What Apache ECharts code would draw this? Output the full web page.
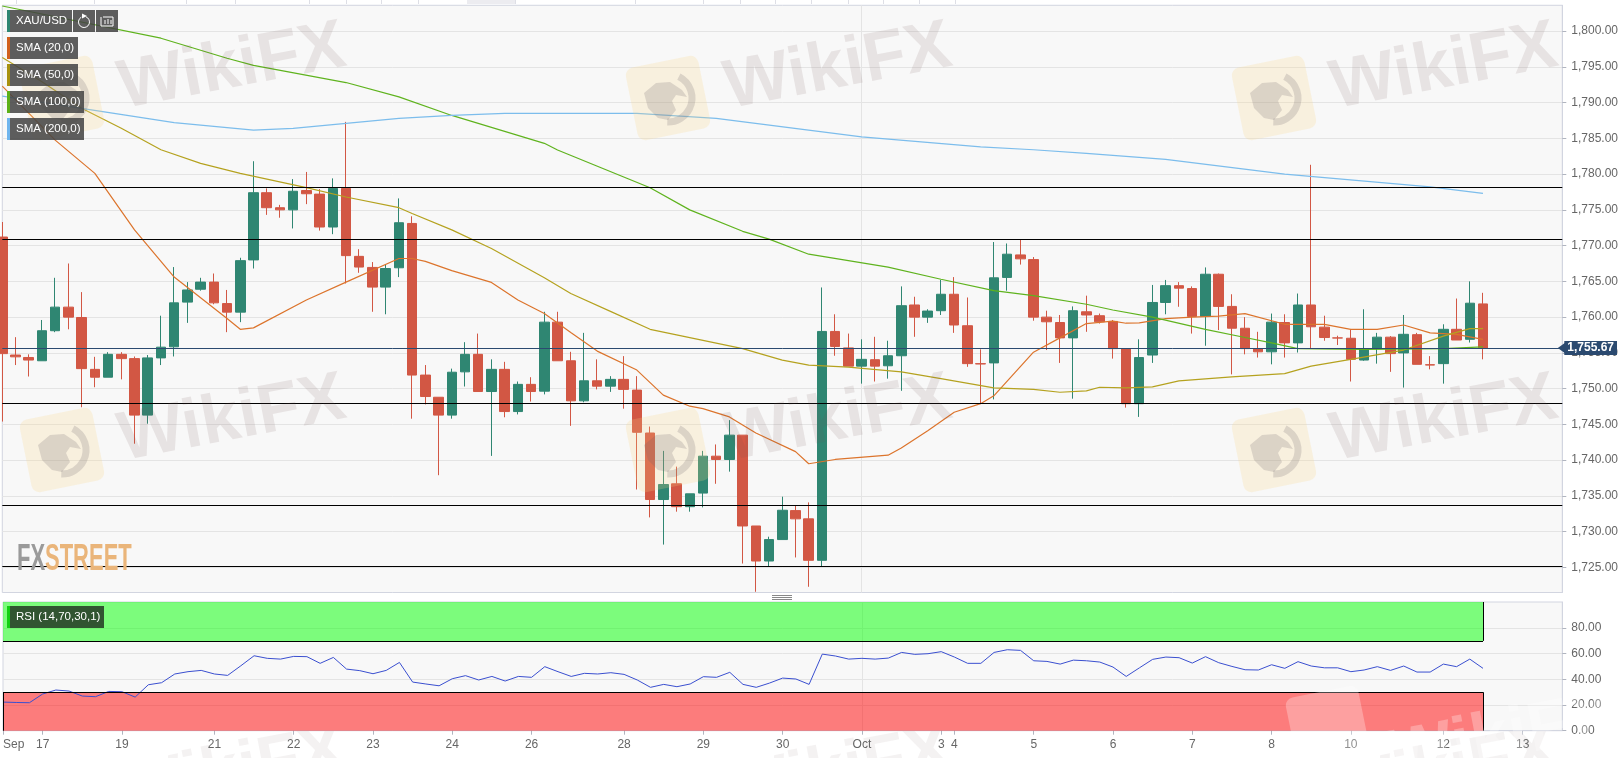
<!DOCTYPE html>
<html><head><meta charset="utf-8">
<script src="https://cdn.jsdelivr.net/npm/echarts@6/dist/echarts.min.js"></script>
<style>html,body{margin:0;padding:0;background:#fff}#c{width:1624px;height:758px}</style>
</head><body><div id="c"></div>
<script>
// ---- axis ticks
const slotCount = 119;
const tickIndex  = [0,3,9,16,22,28,34,40,47,53,59,65,71,72,78,84,90,96,102,109,115];
const tickLabels = ['Sep','17','19','21','22','23','24','26','28','29','30','Oct','3','4','5','6','7','8','10','12','13'];
const priceTicks = [1725,1730,1735,1740,1745,1750,1755,1760,1765,1770,1775,1780,1785,1790,1795,1800];
// ---- candles
const opens  = [1771.2,1754.7,1754.36,1753.9,1758.1,1761.4,1759.95,1752.7,1751.6,1754.8,1754.2,1746.3,1754.3,1755.85,1762.1,1763.9,1764.9,1761.9,1760.7,1768,1777.4,1775.3,1775,1777.7,1777.2,1772.6,1778,1768.5,1766.95,1764.2,1766.9,1773.1,1751.9,1748.8,1746.3,1752.35,1754.8,1749.6,1752.7,1746.8,1750.6,1749.65,1759.3,1753.9,1748.3,1751.1,1750.35,1751.3,1749.8,1743.8,1734.5,1736.7,1733.5,1735.4,1740.56,1740.1,1743.5,1730.8,1725.9,1728.9,1732.95,1731.8,1726,1758,1755.7,1753.15,1754.05,1753.2,1754.6,1761.7,1760,1760.9,1763.2,1758.8,1753.5,1753.6,1765.55,1768.7,1768.05,1760,1759.25,1757.1,1760.75,1760.2,1759.4,1755.6,1747.9,1754.7,1762.05,1764.4,1764,1760.1,1766,1761.5,1758.45,1755.6,1755.15,1759.25,1756.4,1761.7,1758.6,1757.1,1757.05,1754,1755.6,1757.2,1755,1757.55,1753.35,1753.5,1758.3,1756.9,1761.85];
const closes = [1754.9,1754.45,1754,1758.1,1761.4,1760,1752.8,1751.6,1754.8,1754.2,1746.3,1754.3,1755.8,1762,1763.8,1764.9,1762,1760.7,1767.9,1777.4,1775.3,1775,1777.6,1777.25,1772.6,1778,1768.6,1767,1764.2,1766.8,1773.2,1751.9,1748.9,1746.3,1752.3,1754.8,1749.6,1752.7,1746.8,1750.6,1749.6,1759.3,1753.9,1748.3,1751.1,1750.35,1751.3,1749.9,1743.9,1734.5,1736.6,1733.5,1735.3,1740.56,1740.1,1743.5,1730.8,1725.9,1728.9,1733,1731.8,1726,1758,1755.9,1753.15,1754.1,1753.15,1754.6,1761.6,1760,1760.85,1763.2,1758.9,1753.5,1753.45,1765.5,1768.8,1768.15,1760,1759.35,1757.1,1760.9,1760.3,1759.35,1755.6,1747.9,1754.35,1762.05,1764.4,1764.05,1760.1,1766,1761.5,1758.45,1755.6,1755.15,1759.3,1756.4,1761.7,1758.65,1757.15,1757.08,1754.1,1755.6,1757.2,1754.9,1757.6,1753.4,1753.3,1758.3,1756.8,1761.95,1755.67];
const lows   = [1745.4,1753.3,1751.7,1753.9,1757.9,1758.3,1747.4,1750.2,1751.6,1751.3,1742.3,1745.1,1753.3,1754.5,1759.2,1763.7,1761.8,1757.9,1759.3,1766.8,1774.3,1773.9,1772.4,1775.8,1772.1,1771.6,1764.7,1766.2,1760.75,1760.4,1765.6,1745.8,1747.8,1737.9,1745.8,1750.3,1749.6,1740.6,1746,1746.4,1748.2,1749.2,1753.9,1744.8,1748.1,1749.9,1749.55,1747.2,1735.9,1732,1728.2,1732.8,1732.8,1733.4,1736.7,1738.4,1725.55,1721.6,1725.2,1728.9,1726.4,1722.3,1725.2,1754.6,1753.15,1750.7,1751,1751.4,1749.7,1757.25,1759.2,1760.3,1757.8,1753.05,1747.9,1748.5,1763.7,1767.35,1759.5,1755.4,1753.6,1748.6,1757.95,1759.1,1754.2,1747.35,1746.05,1753.6,1760.4,1761.45,1757.7,1756,1758.2,1752,1754.8,1754.35,1753.4,1754.35,1755.05,1755.6,1756.7,1756.1,1751,1753.9,1753.5,1752.35,1750.15,1753.4,1752.7,1750.7,1756.8,1756.45,1754.1];
const highs  = [1773.3,1757.2,1754.8,1759.6,1765.5,1767.5,1763.5,1754.45,1755.1,1755.1,1754.5,1754.7,1760.2,1767,1764.9,1765.5,1766.1,1763.8,1768.3,1781.8,1778,1775.7,1779.3,1780.3,1777.9,1779.4,1787.3,1769.5,1767.7,1767.3,1776.6,1774.1,1753.3,1748.8,1752.8,1756.5,1757.7,1754.1,1753.75,1751,1751.6,1760.75,1760.75,1755.15,1757.8,1754.1,1751.75,1754.55,1751.75,1744.7,1741.3,1739.1,1735.3,1741.3,1742.2,1745.6,1743.5,1730.8,1729.3,1734.9,1733.6,1734.1,1764.15,1760.4,1757.7,1756.9,1757.25,1756.7,1764.3,1762.85,1761.1,1765.2,1765.6,1762.75,1755.5,1770.5,1770.3,1770.8,1768.4,1760.9,1760.3,1761.5,1763,1760.5,1759.6,1755.6,1756.9,1764.5,1765.2,1764.9,1764.3,1766.95,1766.1,1763.2,1760,1757.95,1760.5,1760.4,1763.3,1781.3,1760.2,1757.4,1758.3,1761.1,1757.8,1757.35,1760.3,1757.8,1754.55,1759,1762.6,1765,1763.4];
// ---- moving averages: candle index / value
const sma20Idx = [0,4,7,10,13,17,18,19,23,26,30,31,32,34,37,39,41,43,45,48,50,52,53,55,57,60,61,63,67,68,70,72,74,75,78,80,82,84,85,86,88,90,92,94,97,100,102,104,106,108,110,112];
const sma20Val = [1792.3,1784.75,1780.1,1772.2,1765.6,1759.8,1758.3,1758.5,1762.4,1764.9,1768.2,1768.2,1767.8,1766.5,1764.85,1762.4,1760.5,1757.85,1755.25,1752.6,1749.1,1747.55,1747.2,1746.05,1743.8,1741.2,1739.5,1740.1,1740.7,1741.7,1744.1,1746.7,1747.9,1749,1755.1,1757.1,1759.1,1759.45,1759.15,1759.2,1759.8,1760,1760.15,1760.5,1759,1759,1758.3,1758.3,1758.9,1757.8,1757.6,1756.9];
const sma50Idx = [0,3,6,9,12,15,18,23,26,30,31,34,37,41,43,46,49,56,59,61,64,68,71,75,78,80,82,83,85,87,89,93,97,99,102,106,109,111,112];
const sma50Val = [1796.3,1792.9,1789.2,1786.4,1783.4,1781.5,1780.1,1778.1,1776.8,1775.3,1774.5,1772.2,1769.6,1765.5,1763.3,1760.8,1758.3,1755.6,1754,1753.3,1753,1752.35,1751.4,1750.1,1749.9,1749.5,1749.7,1750.2,1750.1,1750.25,1751.1,1751.65,1752.1,1753.15,1754.1,1755.4,1757.35,1758.4,1758.4];
const sma100Idx = [0,12,17,19,26,30,34,41,42,49,52,56,58,61,67,71,75,78,82,84,87,91,94,96,98,103,109,112];
const sma100Val = [1803.5,1799,1796.2,1795.2,1792.8,1790.8,1788.2,1784.3,1783.36,1778.1,1775,1772,1770.9,1768.8,1767,1765.3,1763.7,1763,1761.8,1761,1760,1758.3,1757.15,1756.4,1755.6,1755.5,1755.6,1755.85];
const sma200Idx = [0,6,13,19,22,26,30,34,38,48,54,65,74,78,82,88,97,108,112];
const sma200Val = [1790.9,1789.2,1787.2,1786.15,1786.4,1787.1,1787.8,1788.2,1788.5,1788.5,1787.8,1785.2,1783.8,1783.4,1782.9,1782.05,1780,1778.2,1777.3];
// ---- RSI, one value per candle
const rsiValues = [22.3,22,21.8,28.6,31.7,30.9,27,26.5,30.6,30.4,26.2,35.8,37.4,44.2,46,47,44.2,43.1,50.6,58.4,56.4,55.8,57.9,57.7,52.5,57.1,48,46.8,44.4,47,53.2,37.9,36.4,35,40.5,42.9,39.5,42.3,38.7,42.3,41.6,49.9,46,42.3,44.7,44.2,45.2,43.9,39.5,33.8,36.1,34.3,36.4,42.1,41.6,45.5,36.1,33.8,37.1,41,40.3,36.1,59.7,58.2,55.8,56.4,55.8,56.6,61,59.5,60,61.6,57.4,52.5,52.5,61,63.1,62.6,54.5,54,51.9,55,54.5,53.5,49.6,42.3,49,55.6,57.4,56.9,52.7,57.7,53,50.1,47.5,47.3,51.4,48.6,53.8,50.4,49,49,46,47.3,49.9,47,50.4,45.7,45.7,51.9,49.9,55.8,48.6];
const rsiTicks = [0,20,40,60,80];
// ---- horizontal levels
const levels = [1778.1,1770.86,1747.9,1733.66,1725.2];
const lastPrice = 1755.67;
const monthLineIndex = 65;
const stripTicks = [16,94,186,235,309,346,381,418,467,515,635,703,740,775,811,848,883,919,955];

const GREEN='#2f8672', RED='#d25744', GRID='#e4e4e4', AXIS='#d2d5e0', TXT='#666666', FONT='"Liberation Sans",Arial,sans-serif';
const categories = Array.from({length:slotCount},(_,i)=>{const k=tickIndex.indexOf(i);return k>=0?tickLabels[k]:'';});
const isTick = i => tickIndex.indexOf(i)>=0;
const pairs = (a,b)=>a.map((x,i)=>[x,b[i]]);
const candles = opens.map((o,i)=>[o,closes[i],lows[i],highs[i]]);
const fmt = v => v.toLocaleString('en-US',{minimumFractionDigits:2,maximumFractionDigits:2});
const lineSeries=(name,color,idx,val,w)=>({name,type:'line',xAxisIndex:0,yAxisIndex:0,z:3,data:pairs(idx,val),showSymbol:false,symbol:'none',lineStyle:{color,width:w||1.2},silent:true,animation:false});
const lastIdx = opens.length-1;

// decorative overlays
function badge(x,y,w,h,label,strip,bg){
  return [
   {type:'rect',z:50,shape:{x,y,width:w,height:h},style:{fill:bg||'rgba(68,68,68,0.86)'}},
   {type:'rect',z:51,shape:{x,y,width:3,height:h},style:{fill:strip}},
   {type:'text',z:52,x:x+9,y:y+h/2,style:{text:label,fill:'#fff',font:'11.5px '+FONT,textVerticalAlign:'middle'}}
  ];
}
const eagle=[[-24,-5],[-12,-15],[2,-16],[14,-8],[19,-1],[8,-3],[4,3],[8,12],[0,22],[-10,20],[-20,10]];
function stamp(cx,cy,lx,ly,z,textFill,logoFill,eagleFill){
  const out=[
   {type:'text',z,x:cx,y:cy,rotation:0.19,style:{text:'WikiFX',font:'bold 69px '+FONT,fill:textFill,textAlign:'center',textVerticalAlign:'middle'}},
   {type:'rect',z,x:lx,y:ly,rotation:0.2,shape:{x:-37,y:-37,width:74,height:74,r:8},style:{fill:logoFill}}];
  if(eagleFill) out.push(
   {type:'arc',z,x:lx,y:ly,shape:{cx:0,cy:0,r:24,startAngle:-1.1,endAngle:1.6},style:{stroke:eagleFill,fill:'none',lineWidth:7}},
   {type:'polygon',z,x:lx,y:ly,shape:{points:eagle},style:{fill:eagleFill}});
  return out;
}
const wmT='rgba(115,85,85,0.12)', wmL='rgba(250,215,130,0.22)', wmE='rgba(105,95,105,0.2)';
const row3=(x)=>({type:'text',z:-1,x,y:772,rotation:0.19,style:{text:'WikiFX',font:'bold 69px '+FONT,fill:'rgba(115,85,85,0.08)',textAlign:'center',textVerticalAlign:'middle'}});
const graphics = [].concat(
  stripTicks.map(x=>({type:'rect',z:1,shape:{x,y:0,width:1,height:4},style:{fill:'#dedfe6'}})),
  [{type:'rect',z:1,shape:{x:467,y:0,width:48,height:4},style:{fill:'#ececf0'}}],
  stamp(232,68,62,98,40,wmT,wmL,wmE), stamp(838,68,668,98,40,wmT,wmL,wmE), stamp(1444,68,1274,98,40,wmT,wmL,wmE),
  stamp(232,420,62,450,40,wmT,wmL,wmE), stamp(838,420,668,450,40,wmT,wmL,wmE), stamp(1444,420,1274,450,40,wmT,wmL,wmE),
  // third row only shows below the lower pane
  [row3(232),row3(838),row3(1444)],
  // pale stamp over the red band
  stamp(1502,738,1328,728,41,'rgba(255,255,255,0.28)','rgba(255,255,255,0.28)',null),
  // FXSTREET mark
  [{type:'text',z:42,x:17,y:560,scaleX:0.61,style:{rich:{a:{fill:'#9a9a9a',font:'bold 36px '+FONT},b:{fill:'#eab57a',font:'bold 36px '+FONT}},text:'{a|FX}{b|STREET}',textVerticalAlign:'middle'}}],
  badge(7,10,65,22,'XAU/USD',GREEN),
  [{type:'rect',z:50,shape:{x:73,y:10,width:22,height:22},style:{fill:'rgba(68,68,68,0.86)'}},
   {type:'arc',z:51,shape:{cx:84,cy:22,r:5.5,startAngle:-1.2,endAngle:4.2},style:{stroke:'#fff',fill:'none',lineWidth:1}},
   {type:'polygon',z:51,shape:{points:[[82,13.5],[87,16],[82,18.5]]},style:{fill:'#fff'}},
   {type:'rect',z:50,shape:{x:96,y:10,width:22,height:22},style:{fill:'rgba(68,68,68,0.86)'}},
   {type:'polyline',z:51,shape:{points:[[101,17],[101,26],[113,26],[113,17],[103,17]]},style:{stroke:'#fff',fill:'none',lineWidth:1}},
   {type:'line',z:51,shape:{x1:105,y1:24,x2:105,y2:20},style:{stroke:'#fff'}},
   {type:'line',z:51,shape:{x1:108,y1:24,x2:108,y2:19},style:{stroke:'#fff'}},
   {type:'line',z:51,shape:{x1:111,y1:24,x2:111,y2:20},style:{stroke:'#fff'}}],
  badge(7,37,71,22,'SMA (20,0)','#d1601c'),
  badge(7,64,71,22,'SMA (50,0)','#a8920f'),
  badge(7,91,77,22,'SMA (100,0)','#5cb017'),
  badge(7,118,77,22,'SMA (200,0)','#6fb5ee'),
  badge(7,606,97,22,'RSI (14,70,30,1)','#12d012','rgba(45,75,45,0.95)'),
  // pane divider handle
  [{type:'rect',z:50,shape:{x:772,y:595,width:20,height:1},style:{fill:'#888'}},
   {type:'rect',z:50,shape:{x:772,y:597,width:20,height:1},style:{fill:'#888'}},
   {type:'rect',z:50,shape:{x:772,y:599,width:20,height:1},style:{fill:'#888'}}]
);

const chart = echarts.init(document.getElementById('c'),null,{renderer:'canvas'});
chart.setOption({
  animation:false,
  backgroundColor:'#ffffff',
  graphic:{elements:graphics},
  grid:[
    {left:2.3,right:1624-1562.3,top:5.3,height:587.2,show:true,backgroundColor:'#f8f8f8',borderColor:AXIS,borderWidth:1},
    {left:2.3,right:1624-1562.3,top:602,height:128.7,show:true,backgroundColor:'#f8f8f8',borderColor:AXIS,borderWidth:1}
  ],
  xAxis:[
    {type:'category',gridIndex:0,data:categories,boundaryGap:false,axisLine:{show:false},axisTick:{show:false},axisLabel:{show:false},
     splitLine:{show:true,interval:i=>i===monthLineIndex,lineStyle:{color:GRID}}},
    {type:'category',gridIndex:1,data:categories,boundaryGap:false,axisLine:{show:true,lineStyle:{color:AXIS}},
     axisTick:{show:true,length:4,interval:i=>isTick(i),lineStyle:{color:'#b0b4bf'}},
     axisLabel:{show:true,interval:i=>isTick(i),color:TXT,fontSize:12,fontFamily:FONT,margin:8,alignMinLabel:'left',hideOverlap:false},
     splitLine:{show:true,interval:i=>i===monthLineIndex,lineStyle:{color:GRID}}}
  ],
  yAxis:[
    {type:'value',gridIndex:0,position:'right',min:1721.5,max:1803.6,scale:true,
     axisLine:{show:true,lineStyle:{color:AXIS}},
     axisTick:{show:true,length:4,customValues:priceTicks,lineStyle:{color:'#b0b4bf'}},
     axisLabel:{show:true,customValues:priceTicks,formatter:v=>fmt(v),color:TXT,fontSize:12,fontFamily:FONT,margin:9},
     splitLine:{show:true,lineStyle:{color:GRID}}},
    {type:'value',gridIndex:1,position:'right',min:0,max:100.3,
     axisLine:{show:true,lineStyle:{color:AXIS}},
     axisTick:{show:true,length:4,customValues:rsiTicks,lineStyle:{color:'#b0b4bf'}},
     axisLabel:{show:true,customValues:rsiTicks,formatter:v=>v.toFixed(2),color:TXT,fontSize:12,fontFamily:FONT,margin:9},
     splitLine:{show:true,lineStyle:{color:GRID}}}
  ],
  series:[
    {name:'XAU/USD',type:'candlestick',xAxisIndex:0,yAxisIndex:0,z:2,barWidth:10,data:candles,clip:true,animation:false,silent:true,
     itemStyle:{color:GREEN,color0:RED,borderColor:GREEN,borderColor0:RED,borderWidth:1}},
    lineSeries('SMA (20,0)','#dc742c',sma20Idx,sma20Val),
    lineSeries('SMA (50,0)','#b5a21f',sma50Idx,sma50Val),
    lineSeries('SMA (100,0)','#5fb31e',sma100Idx,sma100Val),
    lineSeries('SMA (200,0)','#7cbdec',sma200Idx,sma200Val),
    {name:'levels',type:'line',xAxisIndex:0,yAxisIndex:0,z:5,data:[],silent:true,
     markLine:{silent:true,animation:false,symbol:'none',label:{show:false},precision:2,
       data:levels.map(v=>({yAxis:v,lineStyle:{color:'#000',width:1.2,type:'solid'}}))}},
    {name:'last',type:'line',xAxisIndex:0,yAxisIndex:0,z:6,data:[],silent:true,
     markLine:{silent:true,animation:false,symbol:['none','path://M0,0 L10,0 L5,9 Z'],symbolSize:[13,9],precision:2,
       lineStyle:{color:'#2b4a70',width:1,type:'solid'},
       label:{show:true,position:'end',distance:2,formatter:fmt(lastPrice),color:'#fff',fontWeight:'bold',fontSize:12,fontFamily:FONT,backgroundColor:'#2b4a70',padding:[1,3,1,3]},
       itemStyle:{color:'#2b4a70'},
       data:[{yAxis:lastPrice}]}},
    {name:'RSI (14,70,30,1)',type:'line',xAxisIndex:1,yAxisIndex:1,z:4,data:rsiValues,showSymbol:false,symbol:'none',lineStyle:{color:'#3a4fd0',width:1},silent:true,animation:false,
     markArea:{silent:true,animation:false,data:[
        [{coord:[0,70],itemStyle:{color:'rgba(0,255,0,0.5)'}},{coord:[lastIdx,100.3]}],
        [{coord:[0,0],itemStyle:{color:'rgba(255,0,0,0.5)'}},{coord:[lastIdx,30]}]]},
     markLine:{silent:true,animation:false,symbol:'none',label:{show:false},lineStyle:{color:'#000',width:1,type:'solid'},data:[
        [{coord:[0,70]},{coord:[lastIdx,70]}],
        [{coord:[0,30]},{coord:[lastIdx,30]}],
        [{coord:[lastIdx,70]},{coord:[lastIdx,100.3]}],
        [{coord:[lastIdx,0]},{coord:[lastIdx,30]}],
        [{coord:[0,0]},{coord:[0,30]}]]}}
  ]
});
</script></body></html>
